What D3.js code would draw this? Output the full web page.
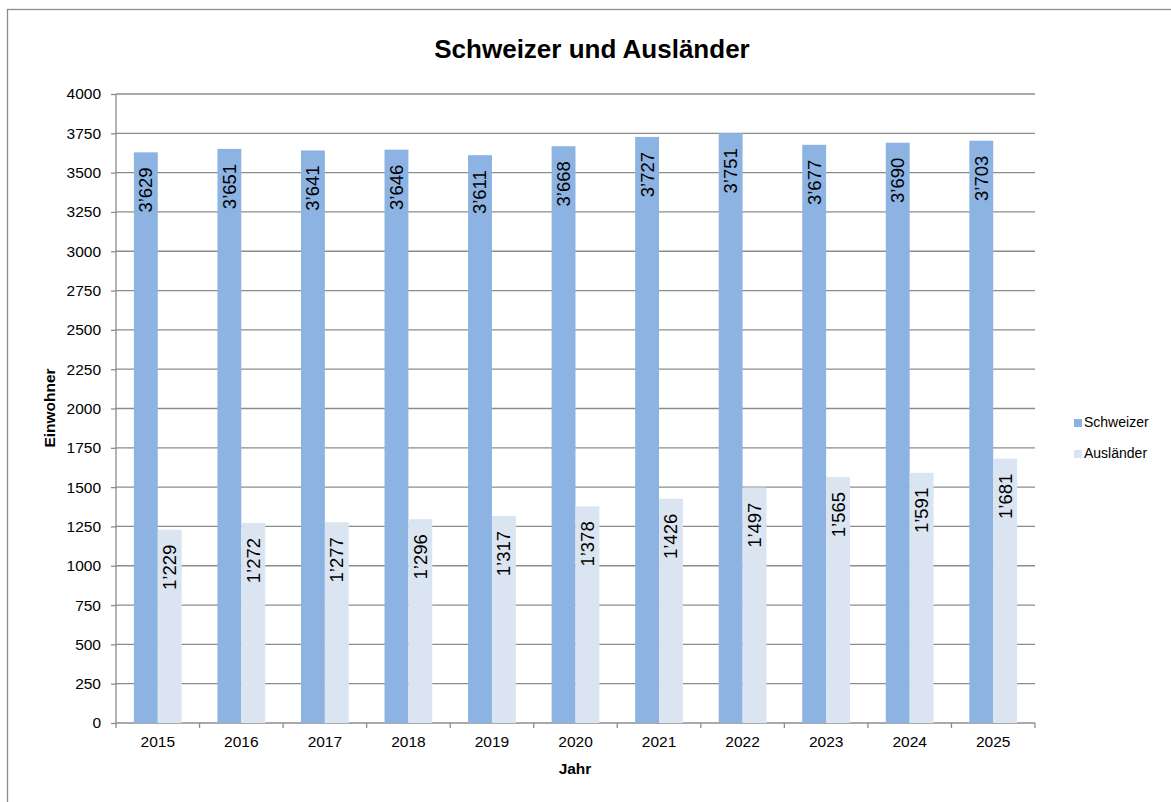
<!DOCTYPE html>
<html>
<head>
<meta charset="utf-8">
<script src="https://cdn.jsdelivr.net/npm/d3@7"></script>
<style>
  body { margin: 0; background: #fff; }
  svg { display: block; font-family: "Liberation Sans", Arial, sans-serif; }
  .grid line { stroke: #8c8c8c; stroke-width: 1.3; }
  .axis path, .axis line { stroke: #8c8c8c; stroke-width: 1.3; }
  .axis text { fill: #000; font-size: 15.5px; }
</style>
</head>
<body>
<div id="chart"></div>
<script>
const years = ["2015", "2016", "2017", "2018", "2019", "2020", "2021", "2022", "2023", "2024", "2025"];
const seriesNames = ["Schweizer", "Ausländer"];
const schweizer = [3629, 3651, 3641, 3646, 3611, 3668, 3727, 3751, 3677, 3690, 3703];
const auslaender = [1229, 1272, 1277, 1296, 1317, 1378, 1426, 1497, 1565, 1591, 1681];
const yTicks = d3.range(0, 4001, 250);
const colors = ["#8db3e2", "#dbe5f1"];

class GroupedBarVis {
  constructor(_parentElement) {
    this.parentElement = _parentElement;
    this.initVis();
  }

  initVis() {
    let vis = this;

    vis.width = 1171;
    vis.height = 802;
    vis.margin = { top: 94, right: 136, bottom: 79, left: 116 };
    vis.innerW = vis.width - vis.margin.left - vis.margin.right;
    vis.innerH = vis.height - vis.margin.top - vis.margin.bottom;

    vis.svg = d3
      .select("#" + vis.parentElement)
      .append("svg")
      .attr("width", vis.width)
      .attr("height", vis.height);

    // outer frame, runs off the right and bottom edge
    vis.svg
      .append("rect")
      .attr("x", 7.5)
      .attr("y", 9.5)
      .attr("width", 1200)
      .attr("height", 900)
      .attr("fill", "none")
      .attr("stroke", "#8c8c8c")
      .attr("stroke-width", 1.3);

    vis.g = vis.svg
      .append("g")
      .attr("transform", `translate(${vis.margin.left},${vis.margin.top})`);

    vis.x0 = d3.scaleBand().domain(years).range([0, vis.innerW]).padding(0);
    // gap width ~150% of a bar
    vis.x1 = d3
      .scaleBand()
      .domain(seriesNames)
      .range([vis.x0.bandwidth() * 0.214, vis.x0.bandwidth() * 0.786]);
    vis.y = d3.scaleLinear().domain([0, 4000]).range([vis.innerH, 0]);
    vis.color = d3.scaleOrdinal().domain(seriesNames).range(colors);

    vis.g
      .append("g")
      .attr("class", "grid")
      .selectAll("line")
      .data(yTicks.filter((d) => d > 0))
      .join("line")
      .attr("x1", 0)
      .attr("x2", vis.innerW)
      .attr("y1", (d) => vis.y(d))
      .attr("y2", (d) => vis.y(d));

    vis.yAxis = vis.g
      .append("g")
      .attr("class", "axis")
      .call(d3.axisLeft(vis.y).tickValues(yTicks).tickSize(5).tickPadding(10).tickFormat(d3.format("d")));
    vis.yAxis.select(".domain").attr("d", `M0,0V${vis.innerH}`);

    vis.xAxis = vis.g
      .append("g")
      .attr("class", "axis")
      .attr("transform", `translate(0,${vis.innerH})`)
      .call(d3.axisBottom(vis.x0).tickSize(0).tickPadding(13));
    vis.xAxis.select(".domain").attr("d", `M0,0H${vis.innerW}`);

    // ticks at the category boundaries
    vis.xAxis
      .selectAll(".boundary")
      .data(d3.range(years.length + 1))
      .join("line")
      .attr("class", "boundary")
      .attr("x1", (i) => i * vis.x0.step())
      .attr("x2", (i) => i * vis.x0.step())
      .attr("y1", 0)
      .attr("y2", 5);

    vis.wrangleData();
  }

  wrangleData() {
    let vis = this;

    vis.displayData = years.map((year, i) => ({
      year: year,
      values: [
        { key: seriesNames[0], value: schweizer[i] },
        { key: seriesNames[1], value: auslaender[i] },
      ],
    }));

    vis.updateVis();
  }

  updateVis() {
    let vis = this;
    const fmt = (v) => d3.format(",")(v).replace(",", "\u2019");

    const groups = vis.g
      .append("g")
      .selectAll("g")
      .data(vis.displayData)
      .join("g")
      .attr("transform", (d) => `translate(${vis.x0(d.year)},0)`);

    groups
      .selectAll("rect")
      .data((d) => d.values)
      .join("rect")
      .attr("x", (d) => vis.x1(d.key))
      .attr("width", vis.x1.bandwidth())
      .attr("y", (d) => vis.y(d.value))
      .attr("height", (d) => vis.innerH - vis.y(d.value))
      .attr("fill", (d) => vis.color(d.key));

    groups
      .selectAll("text")
      .data((d) => d.values)
      .join("text")
      .attr(
        "transform",
        (d) => `translate(${vis.x1(d.key) + vis.x1.bandwidth() / 2},${vis.y(d.value) + 15}) rotate(-90)`
      )
      .attr("dy", "0.35em")
      .attr("text-anchor", "end")
      .attr("font-size", "18.5px")
      .attr("fill", "#000")
      .text((d) => fmt(d.value));

    // title and axis titles
    vis.svg
      .append("text")
      .attr("x", 592)
      .attr("y", 58)
      .attr("text-anchor", "middle")
      .attr("font-size", "26px")
      .attr("font-weight", "bold")
      .text("Schweizer und Ausländer");

    vis.svg
      .append("text")
      .attr("transform", "translate(55,408) rotate(-90)")
      .attr("text-anchor", "middle")
      .attr("font-size", "15.5px")
      .attr("font-weight", "bold")
      .text("Einwohner");

    vis.svg
      .append("text")
      .attr("x", 575)
      .attr("y", 774)
      .attr("text-anchor", "middle")
      .attr("font-size", "15.5px")
      .attr("font-weight", "bold")
      .text("Jahr");

    // legend
    const legend = vis.svg
      .append("g")
      .selectAll("g")
      .data(seriesNames)
      .join("g")
      .attr("transform", (d, i) => `translate(1074,${419 + i * 31})`);

    legend
      .append("rect")
      .attr("width", 8)
      .attr("height", 8)
      .attr("fill", (d) => vis.color(d));

    legend
      .append("text")
      .attr("x", 10)
      .attr("y", 8)
      .attr("font-size", "14px")
      .text((d) => d);
  }
}

new GroupedBarVis("chart");
</script>
</body>
</html>
